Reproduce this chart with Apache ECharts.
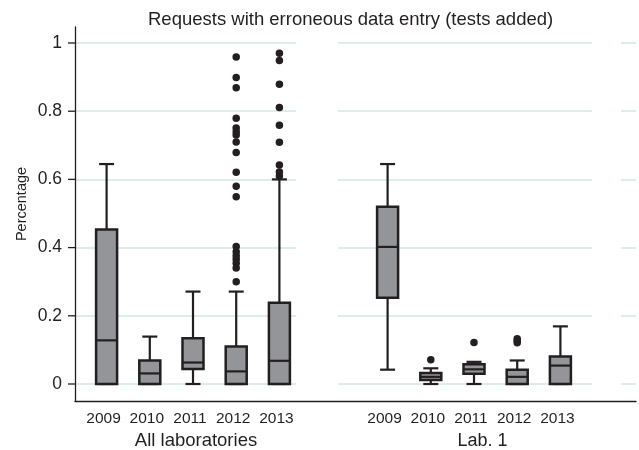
<!DOCTYPE html>
<html>
<head>
<meta charset="utf-8">
<script src="https://cdn.jsdelivr.net/npm/echarts@6/dist/echarts.min.js"></script>
<style>html,body{margin:0;padding:0;background:#fff}#c{width:639px;height:450px}</style>
</head>
<body>
<div id="c"></div>
<script>
// ---- data ----
const years = ['2009', '2010', '2011', '2012', '2013'];
const yTickValues = [0, 0.2, 0.4, 0.6, 0.8, 1];
// [min whisker, Q1, median, Q3, max whisker]
const allLabBoxes = [
  [0, 0, 0.128, 0.453, 0.645],
  [0, 0, 0.031, 0.069, 0.139],
  [0, 0.044, 0.063, 0.134, 0.271],
  [0, 0, 0.037, 0.110, 0.271],
  [0, 0, 0.068, 0.238, 0.600]
];
const allLabOutliers2012 = [0.300, 0.340, 0.354, 0.366, 0.376, 0.388, 0.403, 0.549, 0.580, 0.621, 0.679, 0.710, 0.730, 0.740, 0.751, 0.779, 0.869, 0.899, 0.959];
const allLabOutliers2013 = [0.610, 0.622, 0.642, 0.709, 0.759, 0.811, 0.879, 0.949, 0.970];
const lab1Boxes = [
  [0.042, 0.253, 0.402, 0.520, 0.645],
  [0, 0.012, 0.021, 0.032, 0.046],
  [0, 0.030, 0.043, 0.058, 0.065],
  [0, 0, 0.021, 0.042, 0.069],
  [0, 0, 0.054, 0.081, 0.169]
];
const lab1Outliers2010 = [0.071];
const lab1Outliers2011 = [0.122];
const lab1Outliers2012 = [0.121, 0.127, 0.133];

// ---- helpers ----
const INK = '#231f20';
const FONT = 'Liberation Sans, Arial, Helvetica, sans-serif';
function boxData(boxes) { return boxes.map((b, i) => [i].concat(b)); }
function outlierData(list) {
  const out = [];
  list.forEach(pair => pair[1].forEach(v => out.push([pair[0], v])));
  return out;
}
function renderBox(params, api) {
  const i = api.value(0);
  const pMin = api.coord([i, api.value(1)]);
  const pQ1 = api.coord([i, api.value(2)]);
  const pMed = api.coord([i, api.value(3)]);
  const pQ3 = api.coord([i, api.value(4)]);
  const pMax = api.coord([i, api.value(5)]);
  const x = pMed[0];
  const hw = 10.5, cw = 7.5;
  const lineStyle = { stroke: INK, lineWidth: 2.2 };
  return {
    type: 'group',
    children: [
      { type: 'line', shape: { x1: x, y1: pQ3[1], x2: x, y2: pMax[1] }, style: lineStyle },
      { type: 'line', shape: { x1: x - cw, y1: pMax[1], x2: x + cw, y2: pMax[1] }, style: lineStyle },
      { type: 'line', shape: { x1: x, y1: pQ1[1], x2: x, y2: pMin[1] }, style: lineStyle },
      { type: 'line', shape: { x1: x - cw, y1: pMin[1], x2: x + cw, y2: pMin[1] }, style: lineStyle },
      { type: 'rect', shape: { x: x - hw, y: pQ3[1], width: hw * 2, height: pQ1[1] - pQ3[1] },
        style: { fill: '#939598', stroke: INK, lineWidth: 2.5 } },
      { type: 'line', shape: { x1: x - hw, y1: pMed[1], x2: x + hw, y2: pMed[1] }, style: { stroke: INK, lineWidth: 2.2 } }
    ]
  };
}
// y-axis tick marks drawn through the axis scale
function renderTick(params, api) {
  const p = api.coord([api.value(0), api.value(1)]);
  return { type: 'line', shape: { x1: p[0] - 7, y1: p[1], x2: p[0], y2: p[1] },
    style: { stroke: INK, lineWidth: 1.3 } };
}

const PLOT_TOP = 43, PLOT_H = 341;
const FRAME_TOP = 27, FRAME_H = 374;
const gridLineStyle = { show: true, lineStyle: { color: '#dcedec', width: 2 } };
function gridValueAxis(idx, extra) {
  return Object.assign({
    type: 'value', gridIndex: idx, min: 0, max: 1, interval: 0.2,
    axisLine: { show: false }, axisTick: { show: false }, axisLabel: { show: false },
    splitLine: { show: false }
  }, extra || {});
}
function hiddenX(idx) {
  return { type: 'value', gridIndex: idx, min: 0, max: 1, show: false, splitLine: { show: false } };
}
function mkGrid(left, top, width, height) {
  return { left: left, top: top, width: width, height: height, containLabel: false, outerBoundsMode: 'none' };
}

const chart = echarts.init(document.getElementById('c'), null, { renderer: 'canvas' });
chart.setOption({
  animation: false,
  backgroundColor: '#fff',
  textStyle: { fontFamily: FONT, color: INK },
  title: {
    text: 'Requests with erroneous data entry (tests added)',
    left: 148, top: 10, padding: 0,
    textStyle: { fontFamily: FONT, fontSize: 18.5, fontWeight: 'normal', color: INK }
  },
  grid: [
    // 0: frame (axis lines)
    mkGrid(75, FRAME_TOP, 561, FRAME_H),
    // 1-3: gridline segments
    mkGrid(75, PLOT_TOP, 221, PLOT_H),
    mkGrid(338, PLOT_TOP, 254, PLOT_H),
    mkGrid(621, PLOT_TOP, 15, PLOT_H),
    // 4-5: box panels
    mkGrid(85, PLOT_TOP, 216, PLOT_H),
    mkGrid(366, PLOT_TOP, 216, PLOT_H)
  ],
  xAxis: [
    { type: 'value', gridIndex: 0, min: 0, max: 1, axisLine: { show: true, onZero: false, lineStyle: { color: INK, width: 1.3 } },
      axisTick: { show: false }, axisLabel: { show: false }, splitLine: { show: false } },
    hiddenX(1), hiddenX(2), hiddenX(3),
    { type: 'category', gridIndex: 4, data: years, boundaryGap: true,
      axisLine: { show: false }, axisTick: { show: false },
      axisLabel: { interval: 0, margin: 27, fontSize: 15.5, color: INK, fontFamily: FONT, padding: [0, 6, 0, 0] },
      name: 'All laboratories', nameLocation: 'middle', nameGap: 47,
      nameTextStyle: { fontSize: 18.5, color: INK, fontFamily: FONT, padding: [0, 0, 0, 6] } },
    { type: 'category', gridIndex: 5, data: years, boundaryGap: true,
      axisLine: { show: false }, axisTick: { show: false },
      axisLabel: { interval: 0, margin: 27, fontSize: 15.5, color: INK, fontFamily: FONT, padding: [0, 6, 0, 0] },
      name: 'Lab. 1', nameLocation: 'middle', nameGap: 47,
      nameTextStyle: { fontSize: 18, color: INK, fontFamily: FONT, padding: [0, 0, 0, 17] } }
  ],
  yAxis: [
    { type: 'value', gridIndex: 0, min: 0, max: 1,
      axisLine: { show: true, onZero: false, lineStyle: { color: INK, width: 1.3 } },
      axisTick: { show: false }, axisLabel: { show: false }, splitLine: { show: false },
      name: 'Percentage', nameLocation: 'middle', nameGap: 46,
      nameTextStyle: { fontSize: 14.5, color: INK, fontFamily: FONT, padding: [0, 0, 0, 20] } },
    gridValueAxis(1, {
      axisLabel: { show: true, margin: 13, fontSize: 17.5, color: INK, fontFamily: FONT,
        formatter: v => String(Math.round(v * 10) / 10) },
      splitLine: gridLineStyle
    }),
    gridValueAxis(2, { splitLine: gridLineStyle }),
    gridValueAxis(3, { splitLine: gridLineStyle }),
    gridValueAxis(4),
    gridValueAxis(5)
  ],
  series: [
    { type: 'custom', xAxisIndex: 1, yAxisIndex: 1, renderItem: renderTick, clip: false, silent: true,
      data: yTickValues.map(v => [0, v]), z: 5 },
    { type: 'custom', xAxisIndex: 4, yAxisIndex: 4, renderItem: renderBox, data: boxData(allLabBoxes), z: 3 },
    { type: 'custom', xAxisIndex: 5, yAxisIndex: 5, renderItem: renderBox, data: boxData(lab1Boxes), z: 3 },
    { type: 'scatter', xAxisIndex: 4, yAxisIndex: 4, symbol: 'circle', symbolSize: 7.5,
      itemStyle: { color: INK, opacity: 1 }, z: 4,
      data: outlierData([[3, allLabOutliers2012], [4, allLabOutliers2013]]) },
    { type: 'scatter', xAxisIndex: 5, yAxisIndex: 5, symbol: 'circle', symbolSize: 7.5,
      itemStyle: { color: INK, opacity: 1 }, z: 4,
      data: outlierData([[1, lab1Outliers2010], [2, lab1Outliers2011], [3, lab1Outliers2012]]) }
  ]
});
</script>
</body>
</html>
